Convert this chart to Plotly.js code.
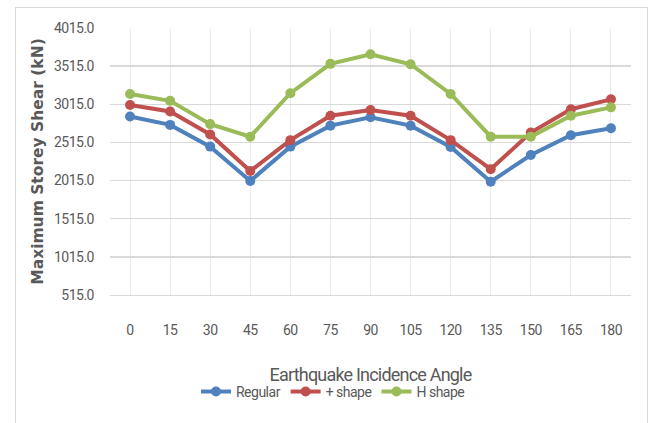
<!DOCTYPE html>
<html>
<head>
<meta charset="utf-8">
<script src="https://cdn.plot.ly/plotly-3.0.1.min.js"></script>
<style>
html,body{margin:0;padding:0;background:#fff;}
#wrap{position:relative;width:653px;height:423px;}
#chart{position:absolute;left:0;top:0;width:653px;height:423px;}
#frame{position:absolute;left:15px;top:7px;width:631px;height:430px;border:1px solid #d9d9d9;pointer-events:none;}
.xtick text, .ytick text, text.legendtext { letter-spacing: -0.5px; }
text.xtitle { letter-spacing: -0.8px; }
</style>
</head>
<body>
<div id="wrap"><div id="chart"></div><div id="frame"></div></div>
<script>
const angles = ["0","15","30","45","60","75","90","105","120","135","150","165","180"];
const regular = [2855, 2745, 2460, 2010, 2460, 2735, 2845, 2735, 2455, 2000, 2350, 2610, 2700];
const plusShape = [3005, 2920, 2620, 2140, 2545, 2865, 2940, 2865, 2545, 2165, 2645, 2950, 3080];
const hShape = [3150, 3060, 2755, 2590, 3160, 3545, 3670, 3540, 3150, 2590, 2590, 2865, 2975];
const yTicks = [515, 1015, 1515, 2015, 2515, 3015, 3515, 4015];

const narrow = 'Roboto, "Liberation Sans", sans-serif';
function tr(name, ys, color){
  return {x: angles, y: ys, name: name, type: 'scatter', mode: 'lines+markers',
    line: {color: color, width: 4}, marker: {color: color, size: 10, symbol: 'circle'}};
}
const data = [tr('Regular', regular, '#4F81BD'), tr('+ shape', plusShape, '#C0504D'), tr('H shape', hShape, '#9BBB59')];
const layout = {
  width: 653, height: 423,
  margin: {l: 110, r: 22, t: 28, b: 128},
  paper_bgcolor: '#fff', plot_bgcolor: '#fff',
  font: {family: narrow, color: '#595959', size: 13},
  showlegend: true,
  legend: {orientation: 'h', x: 0.428, xanchor: 'center', y: -0.363, yanchor: 'middle',
    font: {family: narrow, size: 14, color: '#595959'}, itemwidth: 30, traceorder: 'normal'},
  xaxis: {type: 'category', range: [-0.5, 12.5], showgrid: true, gridcolor: '#ececec', gridwidth: 1,
    zeroline: false, showline: true, linecolor: '#d9d9d9', ticks: '', ticklabelstandoff: 22,
    tickfont: {family: narrow, size: 14, color: '#595959'},
    title: {text: 'Earthquake Incidence Angle', font: {family: narrow, size: 18, color: '#595959'}, standoff: 31}},
  yaxis: {range: [515, 4015], tickvals: yTicks, ticktext: yTicks.map(v => v.toFixed(1)),
    showgrid: true, gridcolor: '#d9d9d9', gridwidth: 1.5, zeroline: false, showline: false, ticks: '',
    ticklabelstandoff: 15, tickfont: {family: narrow, size: 14, color: '#595959'},
    title: {text: 'Maximum Storey Shear (kN)', font: {family: 'DejaVu Sans, Verdana, sans-serif', size: 15.5, color: '#595959', weight: 'bold'}, standoff: 6}}
};
Plotly.newPlot('chart', data, layout, {displayModeBar: false, staticPlot: true});
</script>
</body>
</html>
